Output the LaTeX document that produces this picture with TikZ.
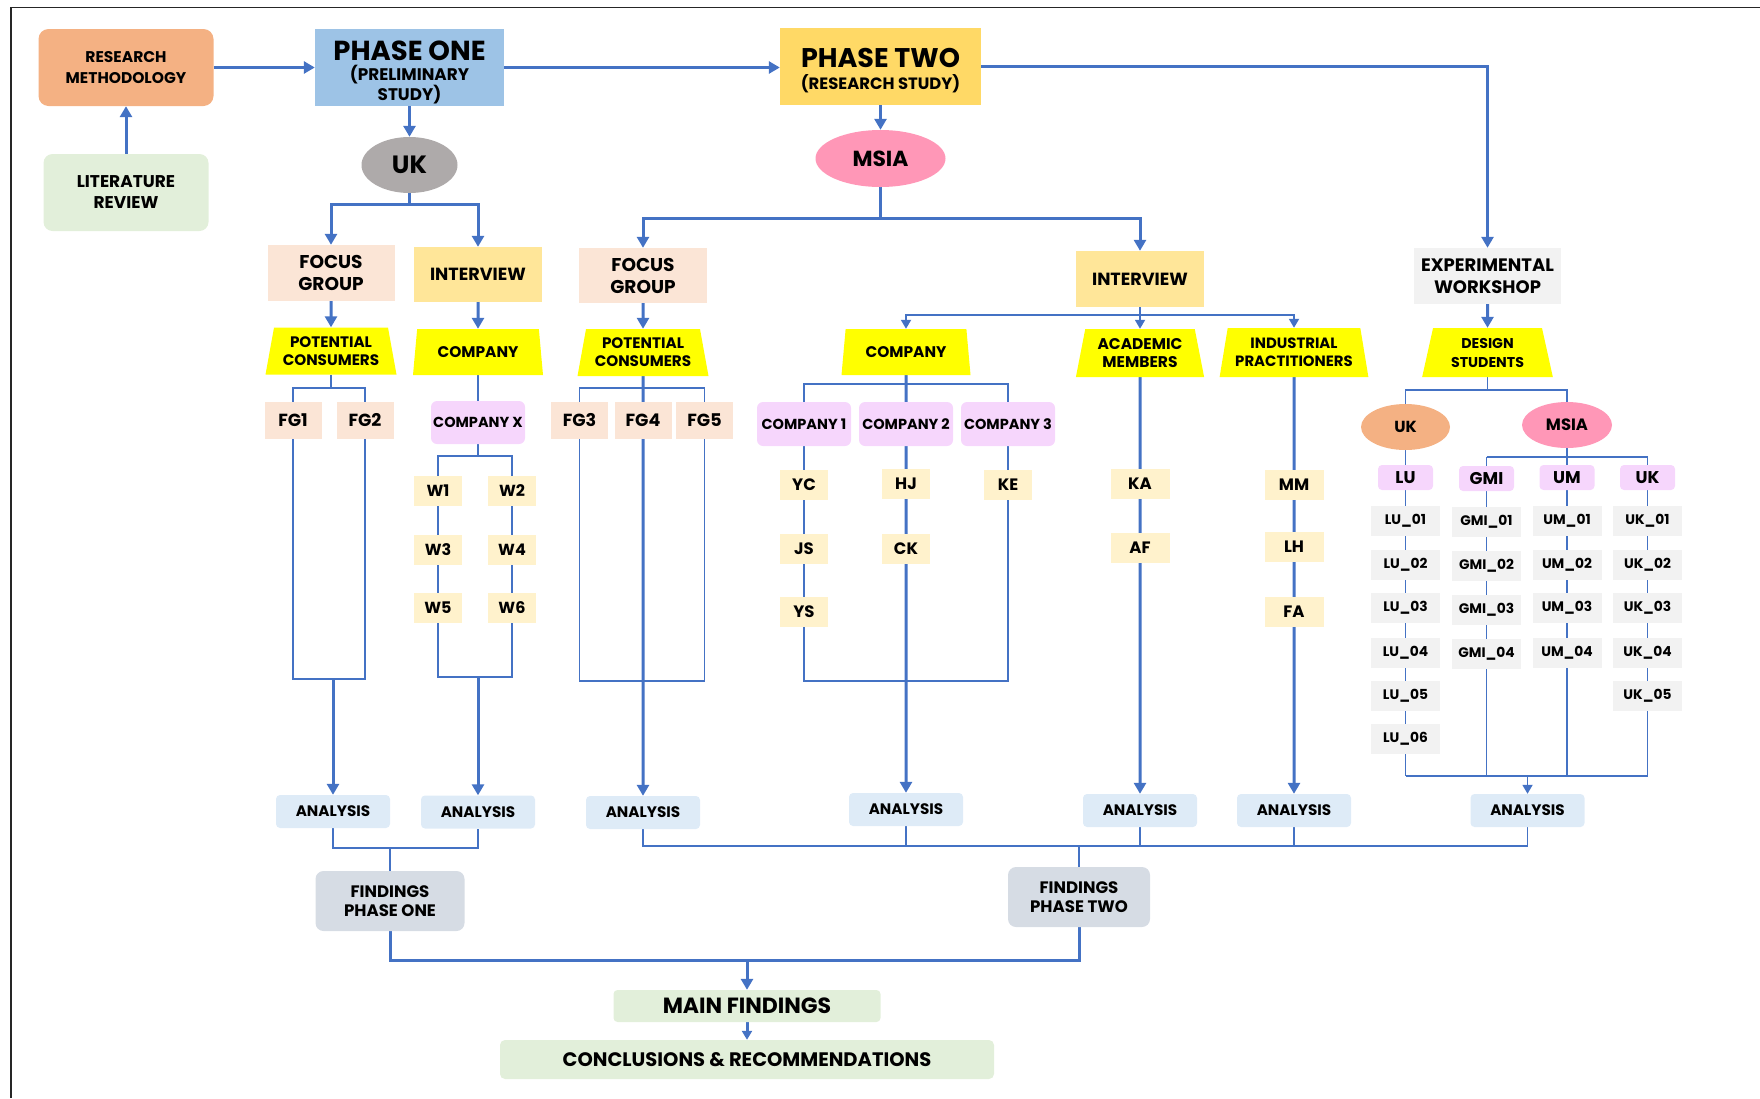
\documentclass[tikz,border=0pt]{standalone}
\usepackage{fontspec}
\setmainfont{Poppins}
\usetikzlibrary{shapes.geometric,arrows.meta,backgrounds}
\definecolor{ln}{HTML}{4472C4}
\definecolor{cRM}{HTML}{F4B183}
\definecolor{cP1}{HTML}{9DC3E6}
\definecolor{cP2}{HTML}{FFD966}
\definecolor{cUK}{HTML}{AEAAAA}
\definecolor{cMS}{HTML}{FF97B7}
\definecolor{cLR}{HTML}{E2EFDA}
\definecolor{cFG}{HTML}{FBE5D6}
\definecolor{cIV}{HTML}{FFE699}
\definecolor{cYel}{HTML}{FFFF00}
\definecolor{cLil}{HTML}{F6D6FC}
\definecolor{cW}{HTML}{FFF2CC}
\definecolor{cGr}{HTML}{F2F2F2}
\definecolor{cAn}{HTML}{DEEBF7}
\definecolor{cFd}{HTML}{D6DCE4}
\begin{document}
\begin{tikzpicture}[x=1pt,y=-1pt,
  bx/.style={rectangle, inner sep=0pt, align=center, text=black},
  sz/.style 2 args={minimum width=#1, minimum height=#2},
  fnt/.style 2 args={font={\fontsize{#1}{#2}\selectfont\bfseries}},
  trap/.style={trapezium, trapezium left angle=76, trapezium right angle=76, trapezium stretches=true, fill=cYel, inner sep=0pt, align=center, text=black},
  ell/.style={ellipse, inner sep=0pt, align=center, text=black},
  fgb/.style={bx, fill=cFG, sz={57pt}{37pt}, fnt={17.5}{19}},
  wb/.style={bx, fill=cW, sz={48pt}{30pt}, fnt={16}{18}},
  pb/.style={bx, fill=cW, sz={59pt}{30pt}, fnt={16.5}{18}},
  cb/.style={bx, fill=cLil, rounded corners=6pt, sz={94pt}{44pt}, fnt={14.5}{16}},
  hb/.style={bx, fill=cLil, rounded corners=4pt, sz={55pt}{25pt}, fnt={17}{18}},
  gb/.style={bx, fill=cGr, sz={69pt}{30pt}, fnt={13.8}{16}},
  ab/.style={bx, fill=cAn, rounded corners=4pt, sz={114pt}{33pt}, fnt={15.2}{17}},
  thk/.style={draw=ln, line width=3pt},
  thn/.style={draw=ln, line width=1.8pt},
  arr/.style={-{Triangle[length=11pt,width=12pt]}},
  sarr/.style={-{Triangle[length=9pt,width=10pt]}}]
\useasboundingbox (0,0) rectangle (1760,1098);
\draw[line width=1.6pt, black!85] (11,1098) -- (11,7.5) -- (1760,7.5);

% top level
\node[bx, fill=cRM, rounded corners=10pt, sz={175pt}{77pt}, fnt={15.5}{21}] (rm) at (126,67.5) {RESEARCH\\METHODOLOGY};
\node[bx, fill=cLR, rounded corners=9pt, sz={165pt}{77pt}, fnt={17}{21}] (lr) at (126,192.5) {LITERATURE\\REVIEW};
\node[bx, fill=cP1, sz={189pt}{77pt}, fnt={16.8}{20}] (p1) at (409.5,67.5) {\rule{0pt}{30pt}{\fontsize{27.5}{28}\selectfont PHASE ONE}\\[0.5pt](PRELIMINARY\\STUDY)};
\node[bx, fill=cP2, sz={201pt}{77pt}, fnt={16.4}{22}] (p2) at (880.5,66.5) {\rule{0pt}{27pt}{\fontsize{27}{28}\selectfont PHASE TWO}\\(RESEARCH STUDY)};
\node[ell, fill=cUK, sz={96pt}{56pt}, fnt={25}{27}] (ukE) at (409.5,165) {UK};
\node[ell, fill=cMS, sz={130pt}{57pt}, fnt={21.8}{24}] (msiaE) at (880.5,158.5) {MSIA};

% second level
\node[bx, fill=cFG, sz={127pt}{56pt}, fnt={18.5}{22}] (fg1) at (331,273) {FOCUS\\GROUP};
\node[bx, fill=cIV, sz={128pt}{55pt}, fnt={17.6}{20}] (iv1) at (478,274.5) {INTERVIEW};
\node[bx, fill=cFG, sz={128pt}{55pt}, fnt={18.5}{22}] (fg2) at (643,275.5) {FOCUS\\GROUP};
\node[bx, fill=cIV, sz={128pt}{56pt}, fnt={17.6}{20}] (iv2) at (1140,279) {INTERVIEW};
\node[bx, fill=cGr, sz={147pt}{56pt}, fnt={18}{22}] (ew) at (1487.5,276) {EXPERIMENTAL\\WORKSHOP};

% trapezia
\node[trap, sz={131pt}{47pt}, fnt={15.2}{18}] (pc1) at (331,351) {POTENTIAL\\CONSUMERS};
\node[trap, sz={131pt}{46pt}, fnt={15.4}{17}] (co1) at (478,352) {COMPANY};
\node[trap, sz={131pt}{47pt}, fnt={15.2}{18}] (pc2) at (643,352.5) {POTENTIAL\\CONSUMERS};
\node[trap, sz={130pt}{46pt}, fnt={15.4}{17}] (co2) at (906,352) {COMPANY};
\node[trap, sz={129pt}{48pt}, fnt={15.5}{18}] (am) at (1140,353) {ACADEMIC\\MEMBERS};
\node[trap, sz={149pt}{49pt}, fnt={14.9}{18}] (ip) at (1294,352.5) {INDUSTRIAL\\PRACTITIONERS};
\node[trap, sz={131pt}{49pt}, fnt={14.2}{19}] (ds) at (1487.5,352.5) {DESIGN\\STUDENTS};

% focus groups
\node[fgb] (fgA) at (293,420.5) {FG1};
\node[fgb] (fgB) at (365,420.5) {FG2};
\node[fgb] (fgC) at (579.5,420.5) {FG3};
\node[fgb] (fgD) at (643,420.5) {FG4};
\node[fgb] (fgE) at (704.5,420.5) {FG5};

% company X and W
\node[cb, sz={94pt}{43pt}] (cx) at (478,422.5) {COMPANY X};
\node[wb] (w1) at (438,491) {W1};
\node[wb] (w2) at (512,491) {W2};
\node[wb] (w3) at (438,550) {W3};
\node[wb] (w4) at (512,550) {W4};
\node[wb] (w5) at (438,608) {W5};
\node[wb] (w6) at (512,608) {W6};

% companies MSIA
\node[cb] (c1) at (804,424) {COMPANY 1};
\node[cb] (c2) at (906,424) {COMPANY 2};
\node[cb] (c3) at (1008,424) {COMPANY 3};
\node[wb, fnt={16.5}{18}] (yc) at (804,485) {YC};
\node[wb, fnt={16.5}{18}] (js) at (804,549) {JS};
\node[wb, fnt={16.5}{18}] (ys) at (804,612) {YS};
\node[wb, fnt={16.5}{18}] (hj) at (906,483.5) {HJ};
\node[wb, fnt={16.5}{18}] (ck) at (906,549) {CK};
\node[wb, fnt={16.5}{18}] (ke) at (1008,485) {KE};
\node[pb] (ka) at (1140,484) {KA};
\node[pb] (af) at (1140,548) {AF};
\node[pb] (mm) at (1294,485) {MM};
\node[pb] (lh) at (1294,547) {LH};
\node[pb] (fa) at (1294,612) {FA};

% design students
\node[ell, fill=cRM, sz={89pt}{46pt}, fnt={16}{18}] (ukS) at (1405.5,427) {UK};
\node[ell, fill=cMS, sz={90pt}{46pt}, fnt={16.4}{18}] (msiaS) at (1567,425) {MSIA};
\node[hb] (luh) at (1405.5,477.5) {LU};
\node[hb] (gmh) at (1486.5,478.5) {GMI};
\node[hb] (umh) at (1567,477.5) {UM};
\node[hb] (ukh) at (1647.5,477.5) {UK};
\foreach \i/\y in {1/521,2/565,3/608,4/653,5/696,6/739}
  \node[gb] (lu\i) at (1405.5,\y) {LU\_0\i};
\foreach \i/\y in {1/522,2/566,3/610,4/654}
  \node[gb] (gm\i) at (1486.5,\y) {GMI\_0\i};
\foreach \i/\y in {1/521,2/565,3/608,4/653}
  \node[gb] (um\i) at (1567,\y) {UM\_0\i};
\foreach \i/\y in {1/521,2/565,3/608,4/653,5/696}
  \node[gb] (uk\i) at (1647.5,\y) {UK\_0\i};

% analysis
\node[ab] (a1) at (333,811.5) {ANALYSIS};
\node[ab] (a2) at (478,812) {ANALYSIS};
\node[ab] (a3) at (643,812.5) {ANALYSIS};
\node[ab] (a4) at (906,809.5) {ANALYSIS};
\node[ab] (a5) at (1140,810.5) {ANALYSIS};
\node[ab] (a6) at (1294,810.5) {ANALYSIS};
\node[ab] (a7) at (1527.5,810.5) {ANALYSIS};

% findings
\node[bx, fill=cFd, rounded corners=8pt, sz={149pt}{60pt}, fnt={16.6}{19}] (fp1) at (390,901) {FINDINGS\\PHASE ONE};
\node[bx, fill=cFd, rounded corners=8pt, sz={142pt}{60pt}, fnt={16.6}{19}] (fp2) at (1079,897) {FINDINGS\\PHASE TWO};
\node[bx, fill=cLR, rounded corners=4pt, sz={267pt}{32pt}, fnt={22}{24}] (mf) at (747,1006) {MAIN FINDINGS};
\node[bx, fill=cLR, rounded corners=5pt, sz={494pt}{39pt}, fnt={19.5}{21}] (cr) at (747,1059.5) {CONCLUSIONS \& RECOMMENDATIONS};

\begin{scope}[on background layer]
\draw[thk,arr] (lr.north) -- (rm.south);
\draw[thk,arr] (rm.east) -- (p1.west);
\draw[thk,arr] (p1.east) -- (p1.east -| p2.west);
\draw[thk,arr] (p1.south) -- (ukE.north);
\draw[thk,arr] (p2.south) -- (msiaE.north);
\draw[thk,arr] (p2.east) -| (ew.north);
\draw[thk] (ukE.south) -- ++(0,11) coordinate (j1);
\draw[thk,arr] (j1) -| (fg1.north);
\draw[thk,arr] (j1) -| (iv1.north);
\draw[thk] (msiaE.south) -- ++(0,31) coordinate (j2);
\draw[thk,arr] (j2) -| (fg2.north);
\draw[thk,arr] (j2) -| (iv2.north);
\draw[thk,arr] (fg1.south) -- (pc1.north);
\draw[thk,arr] (iv1.south) -- (co1.north);
\draw[thk,arr] (fg2.south) -- (pc2.north);
\draw[thk,arr] (ew.south) -- (ds.north);
\draw[thn] (iv2.south) -- ++(0,8) coordinate (j3);
\draw[thn,sarr] (j3) -| (co2.north);
\draw[thn,sarr] (j3) -- (am.north);
\draw[thn,sarr] (j3) -| (ip.north);
% PC1 loop
\draw[thn] (pc1.south) -- ++(0,13) coordinate (k1);
\draw[thn] (k1 -| fgA) rectangle (fgB |- 0,679);
\draw[thk,arr] (a1.north |- 0,679) -- (a1.north);
% W loop
\draw[thn] (co1.south) -- (cx.north);
\draw[thn] (cx.south) -- ++(0,12) coordinate (k2);
\draw[thn] (k2 -| w1) rectangle (w6 |- 0,677);
\draw[thk,arr] (a2.north |- 0,677) -- (a2.north);
% PC2 loop
\draw[thn] (pc2.south) -- ++(0,12) coordinate (k3);
\draw[thn] (k3 -| fgC) rectangle (fgE |- 0,681);
\draw[thk,arr] (pc2.south) -- (a3.north);
% MSIA companies
\draw[thn] (c1 |- 0,384) rectangle (c3 |- 0,681);
\draw[thk,arr] (co2.south) -- (a4.north);
\draw[thk,arr] (am.south) -- (a5.north);
\draw[thk,arr] (ip.south) -- (a6.north);
% design students tree
\draw[thn] (ds.south) -- ++(0,13) coordinate (d1);
\draw[thn] (d1) -| (ukS.north);
\draw[thn] (d1) -| (msiaS.north);
\draw[thn] (ukS.south) -- (ukS.south |- 0,776) coordinate (d3);
\draw[thn] (msiaS.south) -- ++(0,9) coordinate (d2);
\draw[thn] (d2 -| gmh) -- (d2 -| ukh);
\draw[thn] (d2) -- (d2 |- 0,776);
\draw[thn] (d2 -| gmh) -- (gmh |- 0,776);
\draw[thn] (d2 -| ukh) -- (ukh |- 0,776);
\draw[thn] (d3) -- (ukh |- 0,776);
\draw[thn,sarr] (a7.north |- 0,776) -- (a7.north);
% analysis to findings
\draw[thn] (a1.south) -- (a1.south |- 0,848) -- (a2.south |- 0,848) -- (a2.south);
\draw[thn] (fp1.north |- 0,848) -- (fp1.north);
\draw[thn] (a3.south) -- (a3.south |- 0,846) -- (a7.south |- 0,846) -- (a7.south);
\foreach \n in {a4,a5,a6} \draw[thn] (\n.south) -- (\n.south |- 0,846);
\draw[thn] (fp2.north |- 0,846) -- (fp2.north);
\draw[thk] (fp1.south) -- (fp1.south |- 0,960) -- (fp2.south |- 0,960) -- (fp2.south);
\draw[thk,arr] (mf.north |- 0,960) -- (mf.north);
\draw[thk,sarr] (mf.south) -- (cr.north);
\end{scope}
\end{tikzpicture}
\end{document}
